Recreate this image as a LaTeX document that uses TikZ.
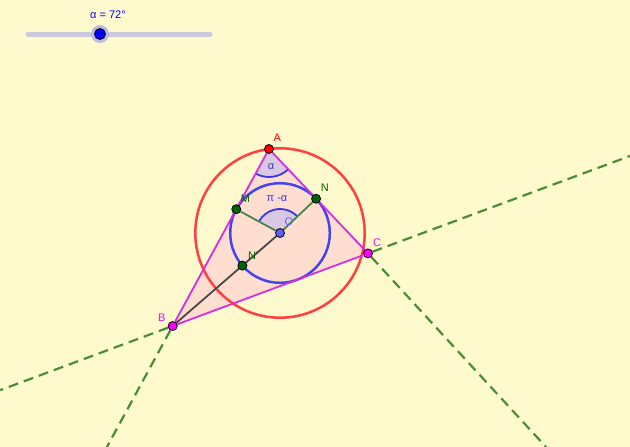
\documentclass[tikz,border=0pt]{standalone}
\usepackage{fontspec}
\setmainfont{Liberation Sans}
\usetikzlibrary{angles}
\pgfdeclarelayer{back}
\pgfdeclarelayer{bg}
\pgfsetlayers{back,bg,main}
\definecolor{paper}{RGB}{255,250,205}
\definecolor{peach}{RGB}{255,222,208}
\definecolor{circred}{RGB}{255,64,64}
\definecolor{circblue}{RGB}{68,68,238}
\definecolor{sidemag}{RGB}{214,46,222}
\definecolor{ptmag}{RGB}{255,0,255}
\definecolor{ptgreen}{RGB}{0,100,0}
\definecolor{seggreen}{RGB}{72,132,72}
\definecolor{seggray}{RGB}{72,72,72}
\definecolor{dashgreen}{RGB}{74,140,58}
\definecolor{lilac}{RGB}{218,200,226}
\definecolor{angblue}{RGB}{56,56,230}
\definecolor{ptblue}{RGB}{96,96,255}
\definecolor{slidergray}{RGB}{204,200,222}
\definecolor{halo}{RGB}{190,186,228}
\tikzset{%
    vtx/.style={inner sep=0pt,minimum size=9pt,circle,draw=black,line width=0.8pt},
    lbl/.style={font=\fontsize{11}{13}\selectfont,inner sep=1pt}
}

\begin{document}
\begin{tikzpicture}[
                x=1pt,y=-1pt,
                every label/.style={lbl},
                label distance=2pt,
                ext/.style={dashgreen,line width=2.2pt,dash pattern=on 10pt off 6pt},
                side/.style={sidemag,line width=1.8pt},
                ang/.style={draw=angblue,fill=lilac,line width=1.8pt}
            ]
            \useasboundingbox (0,0) rectangle (630,447);
            \node[vtx,fill=red,label={[text=red]60:A}] (A) at (269,149){};
            \node[vtx,fill=ptmag,label={[text=ptmag]150:B}] (B) at (172.7,326){};
            \node[vtx,fill=ptmag,label={[text=ptmag]55:C}] (C) at (368,253.4){};
            \node[vtx,fill=ptgreen,label={[text=ptgreen]60:M}] (M) at (236.25,209.2){};
            \node[vtx,fill=ptgreen,label={[text=ptgreen]60:N}] (N) at (316.1,198.75){};
            \node[vtx,fill=ptgreen,label={[text=ptgreen]50:N'}] (N1) at (242.4,265.6){};
            \node[vtx,fill=ptblue,label={[text=ptblue]60:O}] (O) at (280,233){};
            \node[lbl,text=angblue] (alab) at (271,167) {α};
            \node[lbl,text=angblue] (olab) at (277,199) {π -α};

            % slider
            \coordinate (s0) at (28,34);
            \coordinate (s1) at (210,34);
            \node[circle,fill=halo,minimum size=18pt] (knobhalo) at (100,34){};
            \node[vtx,fill=blue,minimum size=11pt] (knob) at (100,34){};
            \node[lbl,text=blue] (slab) at (108,15) {α = 72°};

            % ends of the lines
            \coordinate (bcR) at (630,156);
            \coordinate (bcL) at (0,390.2);
            \coordinate (abD) at (106.9,447);
            \coordinate (acD) at (546,447);

            \begin{pgfonlayer}{back}
                \fill[paper] (0,0) rectangle (630,447);
            \end{pgfonlayer}
            \begin{pgfonlayer}{bg}
                \draw[slidergray,line width=5pt,line cap=round] (s0) -- (s1);
                \draw[ext] (C) -- (bcR);
                \draw[ext] (C) -- (acD);
                \draw[ext] (B) -- (bcL);
                \draw[ext] (B) -- (abD);
                \fill[peach] (A.center) -- (B.center) -- (C.center) -- cycle;
                \draw[circred,line width=2.5pt] (O.center) circle[radius=84.7pt];
                \draw[circblue,line width=2.5pt] (O.center) circle[radius=49.8pt];
                \pic[ang,angle radius=28pt] {angle=B--A--C};
                \pic[ang,angle radius=24pt] {angle=N--O--M};
                \draw[side] (A) -- (B) -- (C) -- (A);
                \draw[seggreen,line width=1.8pt] (M) -- (O) -- (N);
                \draw[seggray,line width=1.8pt] (B) -- (O);
            \end{pgfonlayer}
        \end{tikzpicture}
\end{document}
